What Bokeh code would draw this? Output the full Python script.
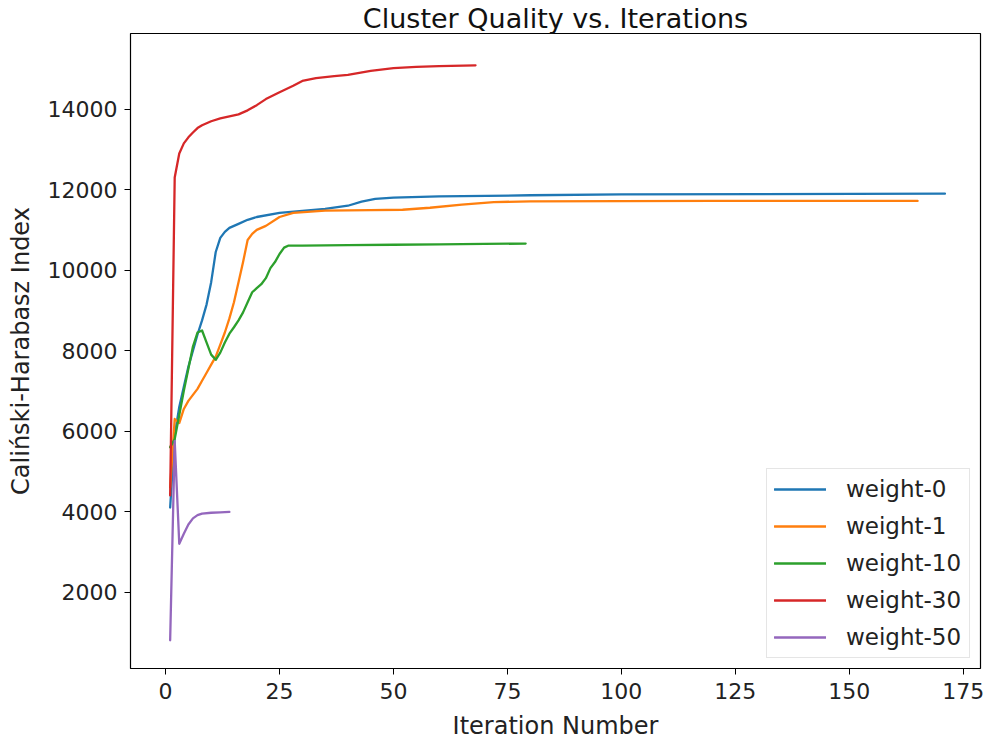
from bokeh.plotting import figure
from bokeh.models import Range1d, Legend, LegendItem, FixedTicker
from bokeh.embed import file_html
from bokeh.resources import INLINE

# ---- data ----
w0_x = [1, 2, 3, 4, 5, 6, 7, 8, 9, 10, 11, 12, 13, 14, 16, 18, 20, 25, 30, 35, 40, 43, 46, 50, 60, 80, 100, 130, 171]
w0_y = [4100, 5900, 6600, 7100, 7600, 8000, 8400, 8750, 9150, 9700, 10450, 10800, 10950, 11050, 11150, 11250, 11320,
        11420, 11470, 11520, 11600, 11700, 11770, 11800, 11830, 11860, 11880, 11890, 11900]

w1_x = [1, 2, 3, 4, 5, 6, 7, 8, 9, 10, 11, 12, 13, 14, 15, 16, 17, 18, 19, 20, 22, 25, 28, 35, 45, 52, 58, 65, 72, 80,
        120, 165]
w1_y = [4600, 6300, 6200, 6550, 6750, 6900, 7050, 7250, 7450, 7650, 7850, 8150, 8450, 8800, 9200, 9700, 10200, 10750,
        10900, 11000, 11100, 11320, 11420, 11480, 11490, 11500, 11550, 11630, 11690, 11710, 11720, 11720]

w10_x = [1, 2, 3, 4, 5, 6, 7, 8, 9, 10, 11, 12, 13, 14, 15, 16, 17, 18, 19, 20, 21, 22, 23, 24, 25, 26, 27, 30, 40, 50,
         60, 70, 79]
w10_y = [5600, 5800, 6400, 7000, 7550, 8100, 8450, 8500, 8200, 7900, 7770, 7950, 8200, 8420, 8580, 8750, 8950, 9200,
         9450, 9550, 9650, 9800, 10050, 10200, 10400, 10560, 10610, 10610, 10620, 10630, 10640, 10650, 10660]

w30_x = [1, 2, 3, 4, 5, 6, 7, 8, 10, 12, 14, 16, 18, 20, 22, 25, 28, 30, 33, 37, 40, 45, 50, 55, 60, 68]
w30_y = [4400, 12300, 12900, 13150, 13300, 13420, 13530, 13600, 13700, 13770, 13820, 13870, 13970, 14100, 14250, 14420,
         14580, 14700, 14770, 14820, 14850, 14950, 15020, 15050, 15070, 15090]

w50_x = [1, 2, 3, 4, 5, 6, 7, 8, 10, 12, 14]
w50_y = [800, 5750, 3200, 3450, 3680, 3830, 3910, 3950, 3970, 3980, 3990]

names = ["weight-0", "weight-1", "weight-10", "weight-30", "weight-50"]
colors = ["#1f77b4", "#ff7f0e", "#2ca02c", "#d62728", "#9467bd"]
x_ticks = [0, 25, 50, 75, 100, 125, 150, 175]
y_ticks = [2000, 4000, 6000, 8000, 10000, 12000, 14000]

FONT = "DejaVu Sans"

p = figure(width=984, height=742, output_backend="svg", toolbar_location=None,
           x_range=Range1d(-7.7, 178.8), y_range=Range1d(100, 15880),
           title="Cluster Quality vs. Iterations",
           min_border_left=130, min_border_right=4, min_border_top=0, min_border_bottom=74)

p.title.align = "center"
p.title.text_font = FONT
p.title.text_font_size = "27px"
p.title.text_font_style = "normal"
p.title.text_color = "#111111"
p.title.standoff = 0
p.title.offset = 0

p.xgrid.visible = False
p.ygrid.visible = False
p.outline_line_color = "black"
p.outline_line_width = 1.2

for ax in (p.xaxis[0], p.yaxis[0]):
    ax.axis_line_color = None
    ax.major_tick_out = 6
    ax.major_tick_in = 0
    ax.minor_tick_out = 0
    ax.minor_tick_in = 0
    ax.major_label_text_font = FONT
    ax.major_label_text_font_size = "22px"
    ax.major_label_text_color = "#222222"
    ax.axis_label_text_font = FONT
    ax.axis_label_text_font_size = "24px"
    ax.axis_label_text_font_style = "normal"
    ax.axis_label_text_color = "#222222"
    ax.major_tick_line_color = "black"

p.xaxis[0].ticker = FixedTicker(ticks=x_ticks)
p.yaxis[0].ticker = FixedTicker(ticks=y_ticks)
p.xaxis[0].axis_label = "Iteration Number"
p.yaxis[0].axis_label = "Caliński-Harabasz Index"
p.xaxis[0].major_label_standoff = 8
p.yaxis[0].major_label_standoff = 7
p.xaxis[0].axis_label_standoff = 10
p.yaxis[0].axis_label_standoff = 10

series = [(w0_x, w0_y), (w1_x, w1_y), (w10_x, w10_y), (w30_x, w30_y), (w50_x, w50_y)]
items = []
for (xs, ys), name, c in zip(series, names, colors):
    r = p.line(xs, ys, line_color=c, line_width=2.3, line_join="round", line_cap="round")
    items.append(LegendItem(label=name, renderers=[r]))

legend = Legend(items=items, location="bottom_right")
legend.label_text_font = FONT
legend.label_text_font_size = "23px"
legend.label_text_color = "#222222"
legend.glyph_width = 52
legend.glyph_height = 26
legend.label_height = 26
legend.label_width = 116
legend.label_standoff = 20
legend.spacing = 11
legend.padding = 7
legend.margin = 10
legend.border_line_color = "#cccccc"
legend.border_line_width = 1
legend.background_fill_color = "white"
legend.background_fill_alpha = 0.8
p.add_layout(legend)

open("out.html", "w").write(file_html(p, INLINE))
